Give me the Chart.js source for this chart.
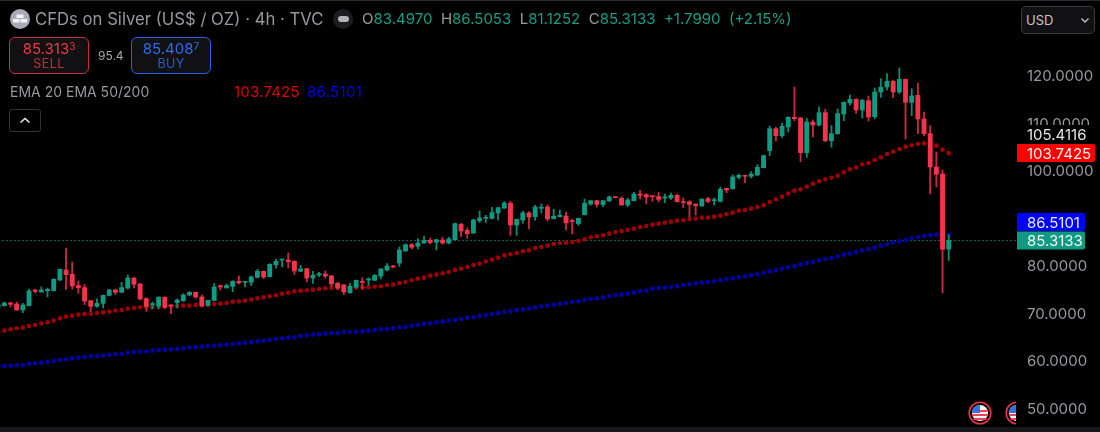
<!DOCTYPE html>
<html>
<head>
<meta charset="utf-8">
<title>CFDs on Silver</title>
<script src="https://cdn.jsdelivr.net/npm/chart.js@4"></script>
<style>
    html, body { margin: 0; padding: 0; background: #000; }
    body { width: 1100px; height: 432px; position: relative; overflow: hidden; font-family: Inter, "Liberation Sans", sans-serif; color: #98989d; }
    canvas { position: absolute; left: 0; top: 0; }
    .abs { position: absolute; white-space: nowrap; }
    .topline { left: 0; top: 0; width: 1100px; height: 1px; background: #2a2a2c; }
    .bottomline { left: 0; top: 427px; width: 1100px; height: 5px; background: #17171a; }
    .coin { left: 10px; top: 9px; width: 20px; height: 20px; border-radius: 50%; background: #a9a9b8; }
    .title { left: 35px; top: 9px; font-size: 16.7px; line-height: 20px; }
    .status { left: 333px; top: 9px; width: 20px; height: 20px; border-radius: 50%; background: #1d1d1f; }
    .status i { position: absolute; left: 5px; top: 7px; width: 11px; height: 6px; border-radius: 3px; background: #b4b4b8; }
    .ohlc { left: 362px; top: 10px; font-size: 15px; line-height: 18px; color: #98989d; }
    .ohlc b { font-weight: 400; color: #1a9c85; }
    .ohlc span { margin-right: 8.5px; }
    .trade { top: 37px; width: 78px; height: 35px; border-radius: 6px; background: #111113; text-align: center; border: 1px solid; }
    .trade .px { font-size: 15px; line-height: 17px; margin-top: 2px; }
    .trade .px sup { font-size: 10px; line-height: 0; vertical-align: 4px; }
    .trade .lb { font-size: 12.5px; line-height: 14px; letter-spacing: 0.4px; }
    .sell { left: 9px; border-color: #c8303f; color: #f23645; }
    .sell .lb { color: #bb2e3d; }
    .buy { left: 131px; border-color: #2a5fe8; color: #2f6bf0; }
    .buy .lb { color: #2a5ad0; }
    .spread { left: 98px; top: 48px; font-size: 12px; line-height: 15px; color: #a6a6aa; }
    .ema { left: 10px; top: 83px; font-size: 14px; line-height: 18px; }
    .ema50 { left: 234px; top: 83px; font-size: 15px; line-height: 18px; letter-spacing: 0.2px; color: #e00000; }
    .ema200 { left: 307px; top: 83px; font-size: 15px; line-height: 18px; letter-spacing: 0.3px; color: #0000e6; }
    .fold { left: 9px; top: 109px; width: 30px; height: 21px; border: 1px solid #333336; border-radius: 3px; }
    .currency { left: 1021px; top: 6px; width: 72px; height: 26px; border: 1px solid #3a3a3d; border-radius: 5px; background: #111113; color: #c4c4c8; font-size: 13px; line-height: 26px; text-indent: 4px; }
    .flags { left: 0; top: 395px; width: 1016px; height: 32px; overflow: hidden; }
    .flags svg { position: absolute; top: 6px; }
</style>
</head>
<body>
<canvas id="silver-chart" width="1100" height="432"></canvas>

<div class="abs topline"></div>
<div class="abs bottomline"></div>
<div class="abs coin">
    <svg width="20" height="20"><rect x="6.5" y="5.5" width="7" height="3.5" fill="#f2f2f5"/><rect x="3" y="10" width="6.5" height="3.5" fill="#f2f2f5"/><rect x="10.5" y="10" width="6.5" height="3.5" fill="#f2f2f5"/></svg>
</div>
<div class="abs title">CFDs on Silver (US$ / OZ) · 4h · TVC</div>
<div class="abs status"><i></i></div>
<div class="abs ohlc"><span>O<b>83.4970</b></span><span>H<b>86.5053</b></span><span>L<b>81.1252</b></span><span>C<b>85.3133</b></span><span><b>+1.7990</b></span><span><b>(+2.15%)</b></span></div>
<div class="abs trade sell"><div class="px">85.313<sup>3</sup></div><div class="lb">SELL</div></div>
<div class="abs spread">95.4</div>
<div class="abs trade buy"><div class="px">85.408<sup>7</sup></div><div class="lb">BUY</div></div>
<div class="abs ema">EMA 20 EMA 50/200</div>
<div class="abs ema50">103.7425</div>
<div class="abs ema200">86.5101</div>
<div class="abs fold">
    <svg width="30" height="21"><path d="M10.5 12.5 L15 8.5 L19.5 12.5" fill="none" stroke="#e8e8ea" stroke-width="1.6"/></svg>
</div>
<div class="abs currency">USD
    <svg style="position:absolute;left:58px;top:10px" width="10" height="7"><path d="M1.5 1.5 L5 5 L8.5 1.5" fill="none" stroke="#c4c4c8" stroke-width="1.4"/></svg>
</div>
<div class="abs flags">
    <svg style="left:968px" width="24" height="24"><circle cx="12" cy="12" r="10.8" fill="#000" stroke="#e8334a" stroke-width="1.6"/><circle cx="12" cy="12" r="8" fill="#f4f4f6"/><path d="M4.6 9h14.8v2H4.6zM4.1 13h15.8v2H4.1zM5.5 17h13v2h-13z" fill="#ef4056"/><path d="M4 12 A8 8 0 0 1 12 4 V12 Z" fill="#2f74e0"/></svg>
    <svg style="left:1005px" width="24" height="24"><circle cx="12" cy="12" r="10.8" fill="#000" stroke="#e8334a" stroke-width="1.6"/><circle cx="12" cy="12" r="8" fill="#f4f4f6"/><path d="M4.6 9h14.8v2H4.6zM4.1 13h15.8v2H4.1zM5.5 17h13v2h-13z" fill="#ef4056"/><path d="M4 12 A8 8 0 0 1 12 4 V12 Z" fill="#2f74e0"/></svg>
</div>

<script>
// цены, индекс = номер свечи
const opens = [71.3,
    71.58,72.14,71.93,70.67,71.58,74.88,74.46,74.74,74.74,76.99,
    79.1,78.19,75.8,75.38,72.63,71.44,72.07,73.76,74.88,74.39,
    75.3,77.41,76.15,73.06,71.79,71.51,73.34,71.72,72.21,72.63,
    73.83,74.39,73.41,71.65,72.71,75.8,75.3,75.66,76.71,76.5,
    76.5,77.55,78.82,77.69,80.22,81.21,81.21,80.93,78.82,79.38,
    77.41,78.05,78.26,77.83,76.29,75.94,74.32,75.45,76.71,76.99,
    76.92,77.83,79.1,79.94,80.57,83.1,84.44,84.09,84.79,85.35,
    84.93,85.42,84.79,85.49,88.73,87.46,86.9,89.5,89.99,89.99,
    91.12,92.17,93.15,88.59,89.64,91.12,90.34,92.1,92.38,89.92,
    90.34,90.48,89.36,88.87,90.76,93.01,93.71,92.87,93.65,94.56,
    94.21,92.8,93.71,95.12,94.98,94.7,94.56,94.28,94.28,94.84,
    93.5,93.5,93.01,92.59,94.14,93.71,93.57,96.32,96.25,98.64,
    99.06,98.85,99.13,100.67,104.26,108.89,107.42,109.25,111.28,111.14,
    103.84,110.3,109.67,112.27,106.36,107.84,111.99,114.31,115.08,112.83,
    114.8,111.42,116.62,117.68,118.87,116.62,119.29,114.45,115.92,110.93,
    107.84,100.81,99.34,83.497];
const highs = [71.9,
    72.35,72.35,72.35,72.07,75.09,75.02,75.52,75.3,77.27,79.31,
    83.74,80.79,76.78,76.01,72.63,72.99,73.83,75.02,75.09,76.5,
    78.05,77.55,76.29,73.27,72.35,73.48,73.48,71.72,72.99,74.11,
    74.53,74.46,73.83,72.71,76.22,75.94,76.15,76.85,77.83,76.57,
    77.83,79.24,78.89,80.43,81.42,81.35,82.68,81.07,80.08,79.45,
    78.82,78.61,78.89,77.98,76.57,76.08,76.29,76.99,77.48,77.48,
    78.12,79.38,80.43,80.08,83.95,84.58,84.65,85.7,86.2,85.84,
    85.56,85.99,85.99,89.01,88.94,87.95,89.78,91.54,90.62,92.31,
    92.31,93.5,93.57,89.85,91.47,91.4,92.73,93.01,92.8,91.89,
    91.75,91.33,89.78,90.06,94.07,93.71,93.79,93.79,94.7,94.56,
    94.56,94.21,95.47,95.89,95.19,94.7,95.47,95.12,95.33,95.12,
    94.28,93.71,93.01,94.07,94.42,94.28,96.6,96.32,99.13,99.34,
    99.06,99.83,101.3,103.34,109.46,109.18,110.09,111.42,117.68,111.21,
    111.07,110.72,113.46,112.97,109.53,113.04,114.52,115.99,115.22,115.08,
    115.78,117.47,119.44,120.49,119.15,121.68,119.36,117.33,118.52,112.41,
    109.53,103.98,100.18,86.5053];
const lows = [71.2,
    71.44,71.3,70.6,70.11,71.51,74.25,74.39,73.41,74.67,76.85,
    75.02,75.09,74.18,71.79,70.32,71.23,71.09,73.62,73.9,74.32,
    75.09,75.3,72.78,70.39,70.88,70.95,70.95,69.89,71.09,72.49,
    73.62,73.13,71.3,71.51,72.56,74.88,75.3,74.53,76.15,75.52,
    75.8,77.41,77.27,77.62,79.52,79.8,79.52,78.19,78.75,76.57,
    76.29,77.69,77.41,75.59,75.02,73.9,74.18,75.3,75.02,75.94,
    76.85,77.2,78.89,79.52,79.87,83.03,83.53,83.53,84.72,84.58,
    83.32,84.51,84.58,85.42,86.13,85.77,86.83,89.08,89.08,89.85,
    89.64,92.03,86.41,86.41,88.94,87.74,89.57,91.12,89.43,89.85,
    90.27,87.53,86.69,88.52,90.69,92.73,92.38,92.45,93.57,94.35,
    92.73,92.45,93.65,94.07,93.01,93.57,93.43,93.29,94.0,93.43,
    92.24,90.2,90.69,92.52,93.29,92.8,93.43,95.4,96.11,98.28,
    97.51,98.49,98.99,100.6,103.2,106.29,107.07,108.19,110.58,101.94,
    102.85,107.14,109.46,106.15,104.96,107.7,110.58,113.88,112.13,111.14,
    110.51,111.0,115.5,117.05,115.43,116.27,106.72,111.64,107.84,107.35,
    95.12,96.6,74.26,81.1252];
const closes = [71.8,
    72.14,71.86,70.67,71.72,74.67,74.6,74.88,75.02,77.13,79.24,
    78.12,75.73,75.38,72.56,71.44,72.07,73.76,74.88,74.39,75.38,
    77.41,76.08,72.99,71.44,71.93,73.34,71.23,71.51,72.78,73.83,
    74.39,73.41,71.51,72.71,75.52,75.52,75.8,76.71,76.36,76.57,
    77.62,78.82,77.62,80.29,80.93,81.28,80.86,78.89,79.31,77.41,
    77.98,78.33,77.83,76.15,75.3,74.46,75.66,76.92,76.5,77.2,
    77.97,79.31,79.94,79.73,83.32,84.44,83.88,84.79,85.35,84.86,
    85.49,84.79,85.63,88.87,87.32,86.76,89.64,90.06,90.13,91.19,
    92.24,93.22,88.59,89.78,91.12,90.27,92.38,92.31,89.85,90.41,
    90.62,89.01,89.29,89.99,93.15,93.71,92.94,93.71,94.49,94.35,
    92.8,93.86,95.12,94.84,94.49,94.56,94.0,94.49,94.84,93.5,
    93.29,92.94,92.66,94.07,93.57,93.86,96.11,95.97,98.71,99.06,
    98.85,99.34,100.74,103.2,108.89,107.42,109.39,111.28,111.0,103.84,
    110.3,109.67,112.27,106.36,107.84,112.06,114.45,115.08,112.83,114.87,
    111.35,116.62,117.61,118.87,116.62,119.29,114.45,115.78,110.93,107.84,
    100.81,99.27,83.47,85.3133];
const ema50 = [66.03,
    66.31,66.59,66.8,66.94,67.29,67.5,67.86,68.07,68.42,68.91,
    69.26,69.47,69.68,69.82,69.89,70.03,70.17,70.32,70.53,70.67,
    70.95,71.09,71.23,71.3,71.3,71.3,71.44,71.44,71.51,71.58,
    71.58,71.72,71.72,71.72,71.93,72.0,72.14,72.42,72.49,72.63,
    72.85,73.13,73.34,73.55,73.76,74.11,74.32,74.6,74.74,74.81,
    74.95,75.09,75.23,75.3,75.3,75.37,75.37,75.37,75.45,75.45,
    75.59,75.66,75.94,76.01,76.36,76.57,76.92,77.27,77.48,77.9,
    78.12,78.4,78.68,79.1,79.38,79.73,80.15,80.43,80.93,81.28,
    81.7,82.19,82.4,82.68,83.03,83.24,83.74,83.95,84.23,84.58,
    84.79,84.86,85.0,85.21,85.56,85.99,86.2,86.41,86.76,87.11,
    87.32,87.53,87.81,88.16,88.37,88.66,88.87,89.08,89.29,89.5,
    89.57,89.78,89.92,90.13,90.13,90.34,90.55,90.84,91.19,91.61,
    91.75,92.03,92.38,92.73,93.44,94.0,94.56,95.19,95.82,96.1,
    96.67,97.3,97.79,98.21,98.56,98.99,99.69,100.32,100.74,101.38,
    101.66,102.29,102.85,103.55,104.05,104.61,105.1,105.38,105.66,105.8,
    105.8,105.31,104.47,103.7425];
const ema200 = [58.72,
    58.86,58.93,59.0,59.07,59.35,59.42,59.56,59.77,59.92,60.13,
    60.27,60.48,60.62,60.76,60.9,60.97,61.04,61.18,61.32,61.39,
    61.67,61.81,61.88,61.95,62.09,62.23,62.3,62.37,62.45,62.59,
    62.73,62.8,62.94,63.08,63.15,63.22,63.36,63.5,63.64,63.78,
    63.92,64.06,64.2,64.34,64.55,64.69,64.83,64.9,65.19,65.33,
    65.47,65.54,65.68,65.75,65.82,66.03,66.03,66.1,66.17,66.31,
    66.45,66.59,66.66,66.8,67.01,67.08,67.36,67.51,67.79,67.86,
    68.07,68.21,68.42,68.56,68.77,69.05,69.12,69.4,69.54,69.82,
    70.03,70.25,70.39,70.67,70.81,70.95,71.23,71.44,71.58,71.79,
    72.0,72.14,72.35,72.49,72.78,72.99,73.06,73.27,73.62,73.76,
    73.9,74.11,74.32,74.6,74.74,75.16,75.3,75.37,75.51,75.73,
    75.94,76.08,76.29,76.43,76.57,76.71,76.92,77.21,77.35,77.56,
    77.77,77.98,78.19,78.47,78.82,79.03,79.38,79.67,79.95,80.23,
    80.58,80.79,81.14,81.42,81.63,81.98,82.34,82.55,82.9,83.25,
    83.53,83.81,84.23,84.51,84.94,85.15,85.43,85.78,86.06,86.27,
    86.41,86.55,86.55,86.5101];
const yTicks = [120, 110, 100, 80, 70, 60, 50];
const lastPrice = 85.3133;
const swingPrice = 105.4116;

const GREEN = '#0e9b82';
const RED = '#f5344c';

const candleColors = opens.map((o, i) => closes[i] >= o ? GREEN : RED);
const wickColors = opens.map((o, i) => closes[i] >= o ? '#0c8a74' : '#c92a40');

// подписи цен справа, как плашки
const priceTags = {
    id: 'priceTags',
    afterDraw(chart) {
        const y = chart.scales.y;
        const ctx = chart.ctx;
        const green = y.getPixelForValue(lastPrice);
        const red = y.getPixelForValue(ema50[ema50.length - 1]);
        const blue = Math.min(y.getPixelForValue(ema200[ema200.length - 1]), green - 18.5);
        const swing = Math.min(y.getPixelForValue(swingPrice), red - 19);
        const tags = [
            { value: swingPrice, y: swing, bg: '#000000', fg: '#e6e6e8', w: 78 },
            { value: ema50[ema50.length - 1], y: red, bg: '#ff0000', fg: '#f4f4f6', w: 78 },
            { value: ema200[ema200.length - 1], y: blue, bg: '#0000ff', fg: '#e8e8f4', w: 68 },
            { value: lastPrice, y: green, bg: GREEN, fg: '#eef6f4', w: 68 }
        ];
        ctx.save();
        ctx.font = '15px Inter';
        ctx.textBaseline = 'middle';
        ctx.textAlign = 'left';
        tags.forEach(tag => {
            ctx.fillStyle = tag.bg;
            ctx.beginPath();
            ctx.roundRect(1017, tag.y - 9, tag.w, 18, [0, 2, 2, 0]);
            ctx.fill();
            ctx.fillStyle = tag.fg;
            ctx.fillText(tag.value.toFixed(4), 1027, tag.y + 1);
        });
        ctx.restore();
    }
};

const candleIndex = opens.map((o, i) => i);

new Chart(document.getElementById('silver-chart'), {
    type: 'bar',
    data: {
        datasets: [
            {
                label: 'body',
                data: candleIndex.map(i => ({ x: i, y: [opens[i], closes[i]] })),
                backgroundColor: candleColors,
                barThickness: 4.2,
                minBarLength: 1,
                grouped: false,
                order: 1
            },
            {
                label: 'wick',
                data: candleIndex.map(i => ({ x: i, y: [lows[i], highs[i]] })),
                backgroundColor: wickColors,
                barThickness: 1.2,
                grouped: false,
                order: 2
            },
            {
                type: 'line',
                label: 'EMA 50',
                data: candleIndex.map(i => ({ x: i, y: ema50[i] })),
                showLine: false,
                pointRadius: 2.3,
                pointBorderWidth: 0,
                pointBackgroundColor: '#a00000',
                order: 3
            },
            {
                type: 'line',
                label: 'EMA 200',
                data: candleIndex.map(i => ({ x: i, y: ema200[i] })),
                showLine: false,
                pointRadius: 2.3,
                pointBorderWidth: 0,
                pointBackgroundColor: '#0000a8',
                order: 3
            },
            {
                type: 'line',
                label: 'Last',
                data: [{ x: 0, y: lastPrice }, { x: 165, y: lastPrice }],
                borderColor: '#0b6b5b',
                borderWidth: 1,
                borderDash: [2, 2],
                pointRadius: 0,
                order: 4
            }
        ]
    },
    options: {
        responsive: false,
        animation: false,
        events: [],
        layout: { padding: 0, autoPadding: false },
        plugins: {
            legend: { display: false },
            tooltip: { enabled: false }
        },
        scales: {
            x: {
                type: 'linear',
                display: false,
                min: 0.3,
                max: 164.9,
                offset: false
            },
            y: {
                position: 'right',
                min: 44.94,
                max: 136.02,
                grid: { display: false, drawTicks: false },
                border: { display: false },
                afterFit(axis) {
                    axis.width = 84;
                    axis.paddingTop = 0;
                    axis.paddingBottom = 0;
                },
                afterBuildTicks(axis) { axis.ticks = yTicks.map(v => ({ value: v })); },
                ticks: {
                    autoSkip: false,
                    maxRotation: 0,
                    padding: 11,
                    labelOffset: 1,
                    color: '#98989d',
                    font: { family: 'Inter', size: 15 },
                    callback: value => value.toFixed(4)
                }
            }
        }
    },
    plugins: [priceTags]
});
</script>
</body>
</html>
